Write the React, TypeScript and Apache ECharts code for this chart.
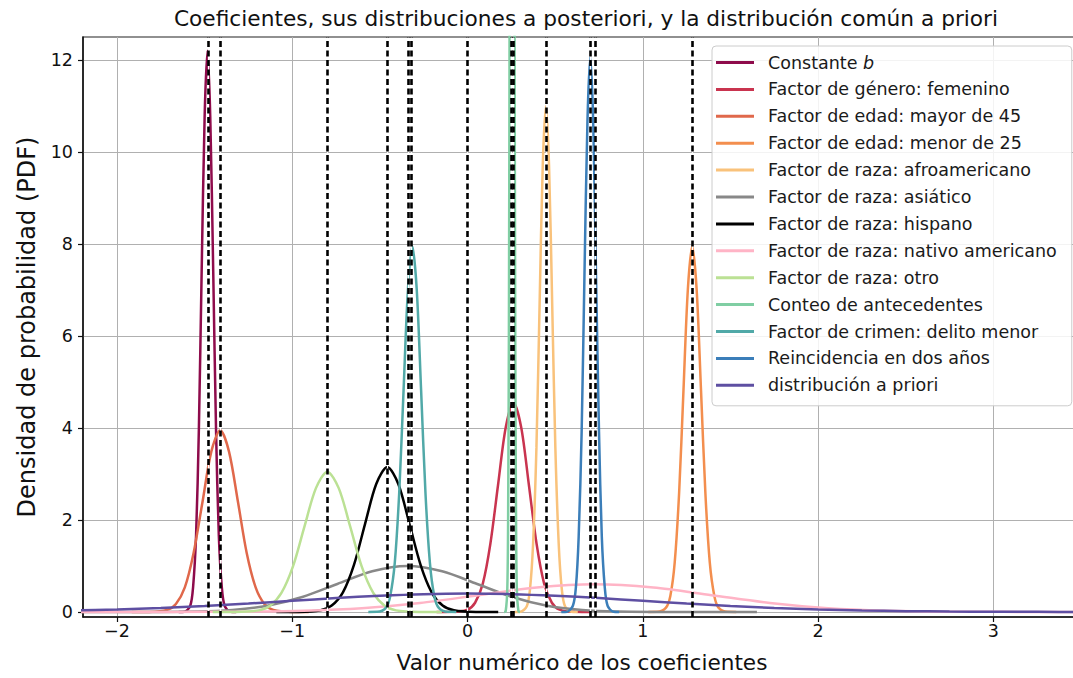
import React, { useEffect, useRef } from 'react';
import * as echarts from 'echarts';

// Posterior densities of each coefficient, as [value, density] points.
const constanteB: [number, number][] = [[-1.648,0],[-1.615,0.004],[-1.582,0.135],[-1.566,0.536],[-1.549,1.65],[-1.533,3.96],[-1.517,7.40],[-1.500,10.77],[-1.484,12.2],[-1.468,10.77],[-1.451,7.40],[-1.435,3.96],[-1.419,1.65],[-1.402,0.536],[-1.386,0.135],[-1.353,0.004],[-1.320,0]];
const generoFemenino: [number, number][] = [[-0.177,0],[-0.089,0.0015],[-0.001,0.0505],[0.043,0.200],[0.087,0.616],[0.130,1.477],[0.174,2.760],[0.218,4.015],[0.262,4.55],[0.306,4.015],[0.350,2.760],[0.394,1.477],[0.437,0.616],[0.481,0.200],[0.525,0.0505],[0.613,0.0015],[0.701,0]];
const edadMayor45: [number, number][] = [[-1.916,0],[-1.815,0.0013],[-1.714,0.0438],[-1.664,0.173],[-1.613,0.534],[-1.563,1.283],[-1.512,2.396],[-1.462,3.486],[-1.411,3.95],[-1.361,3.486],[-1.310,2.396],[-1.260,1.283],[-1.209,0.534],[-1.159,0.173],[-1.108,0.0438],[-1.007,0.0013],[-0.906,0]];
const edadMenor25: [number, number][] = [[1.031,0],[1.081,0.0027],[1.131,0.088],[1.157,0.349],[1.182,1.076],[1.207,2.581],[1.232,4.822],[1.257,7.016],[1.282,7.95],[1.307,7.016],[1.332,4.822],[1.357,2.581],[1.382,1.076],[1.408,0.349],[1.433,0.088],[1.483,0.0027],[1.533,0]];
const razaAfro: [number, number][] = [[0.266,0],[0.302,0.0037],[0.338,0.122],[0.356,0.483],[0.374,1.488],[0.393,3.572],[0.411,6.672],[0.429,9.708],[0.447,11.0],[0.465,9.708],[0.483,6.672],[0.501,3.572],[0.520,1.488],[0.538,0.483],[0.556,0.122],[0.592,0.0037],[0.629,0]];
const razaAsiatico: [number, number][] = [[-2.339,0],[-1.940,0.0003],[-1.541,0.0111],[-1.342,0.0439],[-1.142,0.135],[-0.943,0.325],[-0.743,0.607],[-0.544,0.883],[-0.344,1.0],[-0.145,0.883],[0.055,0.607],[0.255,0.325],[0.454,0.135],[0.654,0.0439],[0.853,0.0111],[1.252,0.0003],[1.651,0]];
const razaHispano: [number, number][] = [[-1.091,0],[-0.964,0.0011],[-0.838,0.035],[-0.775,0.138],[-0.711,0.426],[-0.648,1.023],[-0.585,1.910],[-0.521,2.780],[-0.458,3.15],[-0.395,2.780],[-0.331,1.910],[-0.268,1.023],[-0.205,0.426],[-0.142,0.138],[-0.078,0.035],[0.048,0.0011],[0.175,0]];
const razaNativo: [number, number][] = [[-2.25,0.0001],[-1.68,0.0009],[-1.268,0.0067],[-0.936,0.0263],[-0.603,0.0812],[-0.271,0.195],[0.062,0.364],[0.395,0.530],[0.727,0.6],[1.060,0.530],[1.392,0.364],[1.725,0.195],[2.057,0.0812],[2.390,0.0263],[2.722,0.0067],[3.387,0.0002],[3.55,0.0001]];
const razaOtro: [number, number][] = [[-1.454,0],[-1.323,0.001],[-1.192,0.034],[-1.127,0.134],[-1.062,0.413],[-0.996,0.990],[-0.931,1.850],[-0.865,2.692],[-0.80,3.05],[-0.735,2.692],[-0.669,1.850],[-0.604,0.990],[-0.538,0.413],[-0.473,0.134],[-0.408,0.034],[-0.277,0.001],[-0.146,0]];
const conteoAntecedentes: [number, number][] = [[0.2085,0],[0.2176,0.0147],[0.2267,0.486],[0.2313,1.923],[0.2358,5.93],[0.2404,14.22],[0.2449,26.56],[0.2495,38.65],[0.254,43.8],[0.2585,38.65],[0.2631,26.56],[0.2677,14.22],[0.2722,5.93],[0.2768,1.923],[0.2813,0.486],[0.2904,0.0147],[0.2995,0]];
const delitoMenor: [number, number][] = [[-0.566,0],[-0.516,0.0027],[-0.466,0.088],[-0.441,0.349],[-0.415,1.076],[-0.390,2.581],[-0.365,4.822],[-0.340,7.016],[-0.315,7.95],[-0.290,7.016],[-0.265,4.822],[-0.240,2.581],[-0.215,1.076],[-0.190,0.349],[-0.164,0.088],[-0.114,0.0027],[-0.064,0]];
const reincidencia: [number, number][] = [[0.535,0],[0.568,0.004],[0.601,0.134],[0.618,0.530],[0.634,1.633],[0.651,3.919],[0.667,7.321],[0.684,10.652],[0.700,12.07],[0.717,10.652],[0.733,7.321],[0.750,3.919],[0.766,1.633],[0.783,0.530],[0.799,0.134],[0.832,0.004],[0.865,0]];
// Common prior density.
const priorComun: [number, number][] = [[-2.5,0.0175],[-2.25,0.0317],[-2,0.054],[-1.75,0.0863],[-1.5,0.1295],[-1.25,0.1826],[-1,0.242],[-0.75,0.3011],[-0.5,0.3521],[-0.25,0.3867],[0,0.3989],[0.25,0.3867],[0.5,0.3521],[0.75,0.3011],[1,0.242],[1.25,0.1826],[1.5,0.1295],[1.75,0.0863],[2,0.054],[2.25,0.0317],[2.5,0.0175],[2.75,0.0091],[3,0.0044],[3.25,0.002],[3.5,0.0009],[3.75,0.0004]];

const seriesNames = [
  'Constante b',
  'Factor de género: femenino',
  'Factor de edad: mayor de 45',
  'Factor de edad: menor de 25',
  'Factor de raza: afroamericano',
  'Factor de raza: asiático',
  'Factor de raza: hispano',
  'Factor de raza: nativo americano',
  'Factor de raza: otro',
  'Conteo de antecedentes',
  'Factor de crimen: delito menor',
  'Reincidencia en dos años',
  'distribución a priori',
];
const seriesColors = [
  '#8e0b4b', '#c9344f', '#e0684b', '#f38e4e', '#f9c27b', '#888888', '#000000',
  '#ffb4c6', '#bbe194', '#80cea3', '#51a9a8', '#3b7eb9', '#5e4fa2',
];
const seriesData = [
  constanteB, generoFemenino, edadMayor45, edadMenor25, razaAfro, razaAsiatico,
  razaHispano, razaNativo, razaOtro, conteoAntecedentes, delitoMenor, reincidencia, priorComun,
];

// Mean of each distribution, marked with a dashed vertical line.
const meanLines = [-1.484, -1.411, -0.80, -0.458, -0.344, -0.315, 0, 0.254, 0.262, 0.447, 0.700, 0.727, 1.282];

const xTicks = [-2, -1, 0, 1, 2, 3];
const yTicks = [0, 2, 4, 6, 8, 10, 12];

const FONT = 'DejaVu Sans';

const fmtTick = (v: number) => (v < 0 ? '\u2212' + Math.abs(v) : String(v));

export default function App() {
  const ref = useRef<HTMLDivElement>(null);

  useEffect(() => {
    if (!ref.current) return;
    const chart = echarts.init(ref.current, undefined, { renderer: 'svg' });

    const curves = seriesData.map((data, i) => ({
      name: seriesNames[i],
      type: 'line',
      data,
      smooth: 0.3,
      symbol: 'none',
      showSymbol: false,
      clip: true,
      silent: true,
      lineStyle: { color: seriesColors[i], width: 2.5 },
      itemStyle: { color: seriesColors[i] },
      z: 2,
    }));

    const markLineBase = {
      silent: true,
      symbol: ['none', 'none'],
      label: { show: false },
      animation: false,
      emphasis: { disabled: true },
      data: meanLines.map((v) => ({ xAxis: v })),
    };

    const vlineBase = {
      name: 'mean-base',
      type: 'line',
      data: [],
      silent: true,
      z: 3,
      markLine: { ...markLineBase, lineStyle: { color: '#ffffff', width: 1.2, type: 'solid' } },
    };
    const vlineDash = {
      name: 'mean-dash',
      type: 'line',
      data: [],
      silent: true,
      z: 4,
      markLine: { ...markLineBase, lineStyle: { color: '#000000', width: 2.6, type: [6, 3.5] } },
    };

    chart.setOption({
      animation: false,
      backgroundColor: '#ffffff',
      title: {
        text: 'Coeficientes, sus distribuciones a posteriori, y la distribución común a priori',
        left: 586,
        top: 7,
        padding: 0,
        textAlign: 'center',
        textStyle: { fontFamily: FONT, fontSize: 21.7, fontWeight: 'normal', color: '#111' },
      },
      grid: {
        left: 83,
        top: 37,
        right: 9,
        bottom: 60,
        show: true,
        borderColor: '#222',
        borderWidth: 1.2,
        backgroundColor: 'transparent',
      },
      legend: {
        data: seriesNames,
        orient: 'vertical',
        left: 712,
        top: 46,
        padding: [6, 15, 10, 4],
        icon: 'rect',
        itemWidth: 38,
        itemHeight: 3,
        itemGap: 5.9,
        backgroundColor: 'rgba(255,255,255,0.85)',
        borderColor: '#cccccc',
        borderWidth: 1,
        borderRadius: 4,
        selectedMode: false,
        formatter: (name: string) => (name === 'Constante b' ? 'Constante {i|b}' : name),
        textStyle: {
          fontFamily: FONT,
          fontSize: 17.5,
          lineHeight: 21,
          color: '#1a1a1a',
          padding: [0, 0, 0, 9],
          rich: {
            i: { fontFamily: FONT, fontSize: 17.5, fontStyle: 'italic', color: '#1a1a1a', lineHeight: 21 },
          },
        },
        z: 10,
      },
      xAxis: {
        type: 'value',
        min: -2.194,
        max: 3.5,
        name: 'Valor numérico de los coeficientes',
        nameLocation: 'middle',
        nameGap: 34,
        nameTextStyle: { fontFamily: FONT, fontSize: 21.6, color: '#111' },
        axisLine: { show: true, onZero: false, lineStyle: { color: '#111', width: 1.5 } },
        axisTick: { show: true, length: 5, lineStyle: { color: '#111', width: 1.2 }, customValues: xTicks },
        axisLabel: {
          customValues: xTicks,
          formatter: fmtTick,
          fontFamily: FONT,
          fontSize: 17.5,
          color: '#111',
          margin: 5,
        },
        splitLine: { show: true, lineStyle: { color: '#b0b0b0', width: 1 } },
      },
      yAxis: {
        type: 'value',
        min: -0.11,
        max: 12.5,
        name: 'Densidad de probabilidad (PDF)',
        nameLocation: 'middle',
        nameGap: 44,
        nameTextStyle: { fontFamily: FONT, fontSize: 24, color: '#111' },
        axisLine: { show: true, onZero: false, lineStyle: { color: '#111', width: 1.5 } },
        axisTick: { show: true, length: 5, lineStyle: { color: '#111', width: 1.2 }, customValues: yTicks },
        axisLabel: {
          customValues: yTicks,
          formatter: fmtTick,
          fontFamily: FONT,
          fontSize: 17.5,
          color: '#111',
          margin: 10,
        },
        splitLine: { show: true, lineStyle: { color: '#b0b0b0', width: 1 } },
      },
      series: [...curves, vlineBase, vlineDash],
    });

    return () => chart.dispose();
  }, []);

  return (
    <div
      style={{
        position: 'fixed',
        left: 0,
        top: 0,
        width: 1073,
        height: 678,
        overflow: 'hidden',
        background: '#fff',
      }}
    >
      <div ref={ref} style={{ width: 1090, height: 678 }} />
    </div>
  );
}
